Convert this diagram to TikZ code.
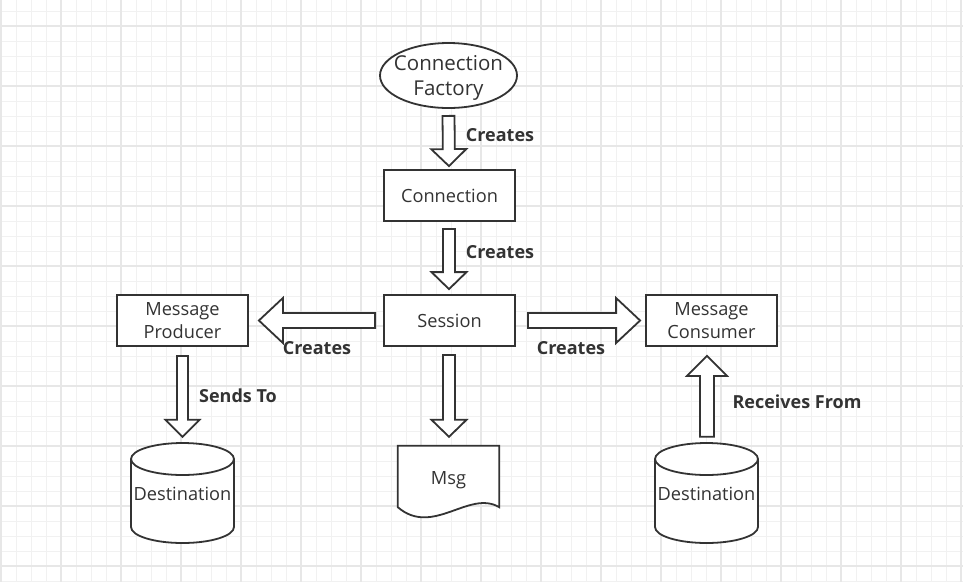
\documentclass[tikz,border=0pt]{standalone}
\usepackage{fontspec}
\setmainfont{Open Sans}
\usetikzlibrary{calc,shapes.geometric}
\definecolor{ink}{HTML}{333333}
\definecolor{gridminor}{HTML}{F1F1F1}
\definecolor{gridmajor}{HTML}{E7E7E7}
\tikzset{
  box/.style={draw=ink, line width=1.8pt, fill=white, minimum width=131pt, minimum height=51pt,
    inner sep=0pt, align=center, text=ink, font=\fontsize{18.2}{23}\selectfont},
  oval/.style={ellipse, draw=ink, line width=1.8pt, fill=white, minimum width=137pt, minimum height=65pt,
    inner sep=0pt, align=center, text=ink, font=\fontsize{20.5}{25}\selectfont},
  plain/.style={inner sep=0pt, text=ink, font=\fontsize{18.2}{23}\selectfont},
  lbl/.style={inner sep=0pt, text=ink, font=\fontsize{18}{22}\selectfont\bfseries},
  % hollow block arrow: #1 shaft half width, #2 head half width, #3 head length
  blockarrow/.style n args={3}{draw=ink, line width=1.8pt, fill=white, line join=miter,
    to path={($(\tikztostart)!#1!90:(\tikztotarget)$)
      -- ($(\tikztotarget)!#3!(\tikztostart)!#1!-90:(\tikztostart)$)
      -- ($(\tikztotarget)!#3!(\tikztostart)!#2!-90:(\tikztostart)$)
      -- (\tikztotarget)
      -- ($(\tikztotarget)!#3!(\tikztostart)!#2!90:(\tikztostart)$)
      -- ($(\tikztotarget)!#3!(\tikztostart)!#1!90:(\tikztostart)$)
      -- ($(\tikztostart)!#1!-90:(\tikztotarget)$) -- cycle}},
  store/.style={draw=ink, line width=1.8pt, fill=white},
}
\begin{document}
\begin{tikzpicture}[x=1pt, y=-1pt]
  \useasboundingbox (0,0) rectangle (963,582);
  \fill[white] (0,0) rectangle (963,582);
  % background grid
  \foreach \gx in {1,16,...,963} \draw[gridminor, line width=1pt] (\gx,0) -- (\gx,582);
  \foreach \gy in {11,26,...,582} \draw[gridminor, line width=1pt] (0,\gy) -- (963,\gy);
  \foreach \gx in {1,61,...,963} \draw[gridmajor, line width=1.2pt] (\gx,0) -- (\gx,582);
  \foreach \gy in {26,86,...,582} \draw[gridmajor, line width=1.2pt] (0,\gy) -- (963,\gy);

  % main nodes
  \node[oval] (factory) at (448.5,75.5) {};
  \node[oval, draw=none, fill=none] (factorytext) at ($(factory.center)+(0,2)$) {Connection\\Factory};
  \node[box] (connection) at (449.5,195.5) {Connection};
  \node[box] (session) at (449.5,320.5) {Session};
  \node[box] (producer) at (182.5,320.5) {Message\\Producer};
  \node[box] (consumer) at (711.5,320.5) {Message\\Consumer};

  % message document
  \node[plain, minimum width=101pt, minimum height=61pt] (msg) at (448.5,476.5) {};
  \draw[store] (msg.north west) -- (msg.north east) -- (msg.south east)
    .. controls ($(msg.south east)+(-30,-18)$) and ($(msg.south west)+(35,30)$) .. (msg.south west) -- cycle;
  \node[plain] (msgtext) at ($(msg.center)+(0,4)$) {Msg};

  % destination stores
  \foreach \d/\cx in {dest1/182.5, dest2/706.5} {
    \draw[store] (\cx-51.5,459) -- (\cx-51.5,527)
      arc[start angle=180, end angle=360, x radius=51.5pt, y radius=16pt]
      -- (\cx+51.5,459);
    \draw[store] (\cx,459) ellipse[x radius=51.5pt, y radius=16pt];
    \node[plain, minimum width=103pt, minimum height=100pt] (\d) at (\cx,494) {Destination};
  }

  % arrow end points
  \coordinate (a1s) at ($(factory.south)+(0,7)$);
  \coordinate (a1t) at ($(connection.north)+(-0.5,-3)$);
  \coordinate (a2s) at ($(connection.south)+(-0.5,7)$);
  \coordinate (a2t) at ($(session.north)+(-0.5,-5)$);
  \coordinate (a3s) at ($(session.west)+(-8,0)$);
  \coordinate (a3t) at ($(producer.east)+(10,0)$);
  \coordinate (a4s) at ($(session.east)+(12,0)$);
  \coordinate (a4t) at ($(consumer.west)+(-5,0)$);
  \coordinate (a5s) at ($(session.south)+(-0.5,8)$);
  \coordinate (a5t) at ($(msg.north)+(0.5,-9)$);
  \coordinate (a6s) at ($(producer.south)+(0,9)$);
  \coordinate (a6t) at ($(dest1.north)+(0,-7)$);
  \coordinate (a7s) at ($(dest2.north)+(0.5,-7)$);
  \coordinate (a7t) at ($(consumer.south)+(-4.5,9)$);

  % block arrows
  \draw[blockarrow={6pt}{17.5pt}{17pt}] (a1s) to (a1t);
  \draw[blockarrow={6pt}{17.5pt}{17pt}] (a2s) to (a2t);
  \draw[blockarrow={7.5pt}{22.5pt}{24pt}] (a3s) to (a3t);
  \draw[blockarrow={7.5pt}{22.5pt}{24pt}] (a4s) to (a4t);
  \draw[blockarrow={6pt}{17.5pt}{17pt}] (a5s) to (a5t);
  \draw[blockarrow={5.5pt}{17pt}{17pt}] (a6s) to (a6t);
  \draw[blockarrow={7pt}{20pt}{20pt}] (a7s) to (a7t);

  % arrow labels
  \node[lbl] (l1) at (500,135) {Creates};
  \node[lbl] (l2) at (500,252) {Creates};
  \node[lbl] (l3) at (317,348) {Creates};
  \node[lbl] (l4) at (571,348) {Creates};
  \node[lbl] (l5) at (238,396) {Sends To};
  \node[lbl] (l6) at (797,402) {Receives From};
\end{tikzpicture}
\end{document}
